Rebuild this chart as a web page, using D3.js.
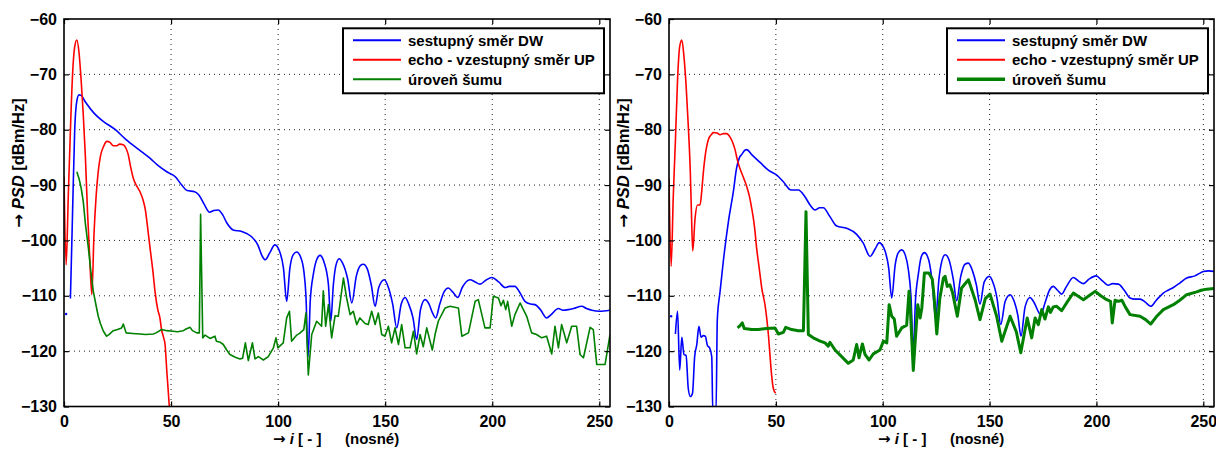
<!DOCTYPE html>
<html>
<head>
<meta charset="utf-8">
<script src="https://cdn.jsdelivr.net/npm/d3@7"></script>
<style>
  body { margin: 0; background: #fff; }
  svg { display: block; font-family: "Liberation Sans", Arial, sans-serif; font-weight: bold; }
</style>
</head>
<body>
<div class="psd"></div>
<script>
// tick values and labels
const xTicks = [0, 50, 100, 150, 200, 250];
const yTicks = [-60, -70, -80, -90, -100, -110, -120, -130];
const seriesNames = ["sestupný směr DW", "echo - vzestupný směr UP", "úroveň šumu"];

// left panel: [carrier, dBm/Hz], null = gap
const dwLeft = [[1,-113.3],[2,null],[3,-110.5],[4,-95],[5,-80],[6,-74.8],[7,-73.7],[8,-73.8],[10,-75],[14,-77],[18,-78.4],[24,-80],[29,-81.8],[35,-83.6],[40,-85.1],[44,-86.5],[48,-87.6],[52,-88.5],[55,-90],[57.5,-91],[61,-91.2],[63,-91.8],[65.5,-93.5],[68,-94.9],[70,-94.6],[72,-94.5],[74,-95.3],[76,-96.8],[79,-98.1],[83,-98.4],[87.5,-99.3],[90.5,-100.8],[92.5,-102.8],[94,-103.5],[96,-102.3],[98.5,-100.8],[100.5,-101.8],[102.5,-105],[104,-111],[105.5,-105],[107,-102.6],[108.7,-102.1],[110.5,-103],[112,-105.5],[113,-110],[114,-121],[115,-111],[116.5,-106],[118,-103.5],[119.6,-102.7],[121.5,-104],[123.5,-108],[124.6,-114.6],[125.8,-108],[127,-104.5],[128.5,-103.3],[130,-104],[132.5,-107],[134.4,-111.3],[136.5,-106.5],[138.5,-104.5],[139.8,-104.3],[141.5,-105],[143.5,-108],[145.3,-111.9],[147,-108.5],[149.6,-107.1],[151.5,-108.5],[153.5,-111.5],[155.4,-115.8],[157.5,-111.5],[159.3,-110.3],[161,-111.5],[163,-114],[164.7,-117.9],[166.5,-112.5],[168.6,-110.7],[170.5,-111.5],[172,-113],[173.6,-114],[175.5,-111.5],[177.5,-109.3],[179.5,-108.6],[181.5,-109.3],[183.9,-110.3],[186,-108.5],[189.6,-107.1],[192,-107.5],[194.3,-107.9],[197,-107.2],[199.8,-106.7],[203,-107.5],[206,-108.5],[208,-108.3],[210.6,-108.3],[213,-109.5],[215.3,-111],[218,-111.5],[220,-111.6],[222.5,-112.5],[225.4,-114],[227.5,-113.4],[230.9,-112.3],[233,-112.6],[235.5,-112.5],[238,-112.3],[241.8,-111.9],[244,-112.3],[246.5,-112.6],[250,-112.8],[255,-112.6]];

const upLeft = [[0,-88.5],[1,-104.4],[2,-92],[3,-80],[4,-70],[5,-65],[6,-63.8],[7,-66],[8,-71],[9,-77.3],[10,-85],[11,-95],[12,-103],[13,-109.8],[14,-99],[15,-92],[16,-87.5],[17,-84.8],[18.5,-83],[20,-82.1],[21.5,-82.3],[23,-82.9],[24.6,-82.9],[26,-82.6],[27.7,-82.7],[29,-83.4],[30,-84.5],[31,-86.5],[32.4,-88.8],[34,-90.2],[35.5,-91.2],[37,-92.8],[38,-94.5],[39,-97.5],[40.2,-101.4],[41.5,-105.5],[42.5,-109.2],[43.8,-112.5],[44.8,-114],[45.5,-116],[46.5,-117.5],[47.2,-118.8],[48,-123.5],[49,-129],[50,-134]];

const noiseLeft = [[6,-87.6],[7,-88.8],[8,-90.5],[9,-93],[10,-97],[11.4,-101.4],[12.5,-105.5],[13.7,-109.2],[15,-111.8],[16,-113.7],[17,-115],[18.4,-116.4],[19.9,-117.3],[21,-117],[23,-116.3],[25,-116.1],[26.9,-115.8],[27.7,-115.1],[29,-116.7],[32,-116.8],[35.5,-116.9],[38,-117],[41.7,-116.9],[43,-116.7],[45.6,-116.1],[48,-116.3],[51,-116.4],[53,-116.5],[55.7,-116.3],[57,-116],[58.9,-115.7],[60,-116.3],[62,-116.7],[63.2,-116.7],[63.8,-95.3],[64.8,-117.6],[65.9,-117.1],[68.2,-117.7],[70.5,-117.3],[71.2,-118.2],[73,-118.4],[74.4,-118.8],[76,-119.8],[77.5,-120.6],[80,-121.1],[82.2,-121.4],[83.4,-121.3],[84.7,-118.5],[86.1,-121.7],[88,-118.5],[89.2,-121.4],[90.8,-121],[92,-121.3],[93.1,-121.6],[95.4,-121],[97.8,-119.4],[99,-117.6],[99.9,-119.4],[101,-119],[102.4,-118.5],[104,-114],[105.3,-112.8],[106.3,-118.2],[108.7,-117.1],[110,-116.8],[112,-116.1],[113,-113.1],[114.1,-124.3],[115.7,-117],[118,-114.6],[120.3,-115.5],[121.1,-109.1],[122.2,-115.5],[123.5,-111.6],[125,-117.6],[126.6,-113.6],[128.1,-113.7],[130.5,-106.8],[132,-110.4],[133.6,-113.4],[135.1,-112.8],[136.7,-115.2],[138.2,-114],[140.6,-115],[142.1,-115.2],[143.7,-112.8],[145.3,-115.2],[146.8,-113.1],[148.4,-117],[149.9,-117.3],[151.5,-115.5],[153,-118.5],[154.6,-115.8],[156.2,-118.8],[157.7,-115.2],[159.3,-119.4],[161.6,-119.4],[163.2,-116.4],[164.7,-120.5],[166.3,-117],[167.8,-119.2],[169.4,-115.8],[172,-119.8],[173.3,-117],[174.8,-114.6],[178,-112.2],[180.3,-111.9],[184.2,-112.2],[185.8,-117.3],[188.9,-116.7],[192,-111],[193.5,-110.7],[196.6,-115.8],[199,-115.8],[200.5,-110.1],[202.9,-110.4],[204.1,-111.8],[205.2,-110.8],[206.3,-112.5],[207.2,-111],[209.1,-115.5],[210.6,-113.4],[213,-111.3],[216.1,-113.7],[218.4,-116.7],[220.7,-117],[223.1,-117.6],[225.4,-117.3],[227.8,-120.5],[229.3,-115.5],[230.9,-119.4],[232.4,-115.2],[234.8,-118.5],[237.1,-115.5],[239.4,-115.5],[241,-120.6],[242.6,-121.2],[245.7,-115.7],[247.2,-116.1],[248.8,-122.4],[252.7,-122.4],[255,-117]];

// right panel
const dwRight = [[1,-113.7],[2,null],[3,-116.9],[4,-112.8],[5,-123.4],[6,-117.5],[7,-120.6],[8,-120.8],[9,-126.7],[10,-128.2],[11,-127.6],[12,-121],[13,-118.8],[14,-115.5],[15,-117.5],[16,-117.2],[17,-117.3],[18,-119],[19,-119.4],[20,-121],[20.5,-131],[22,-131],[22.6,-114.3],[23.9,-109.2],[25.4,-103.8],[27.8,-96.6],[30.1,-91.2],[31.6,-87],[33,-85],[34,-84.5],[35.5,-83.7],[36.4,-83.6],[38.7,-84.5],[42.6,-85.9],[46.5,-87.3],[50.4,-88.2],[53.5,-89.4],[57.1,-90.9],[60.5,-90.9],[63.6,-92.1],[66,-93.6],[68.3,-94.5],[70.5,-94.1],[72.2,-94.1],[75.3,-95.7],[78.5,-97.4],[83.1,-97.8],[87.8,-98.9],[90.9,-100.5],[94.1,-102.9],[96.5,-101.5],[98.4,-100.4],[100,-101],[101.1,-101.9],[102.8,-105],[104.2,-110.4],[105.8,-104.5],[107.3,-102.2],[108.9,-101.7],[110.6,-102.7],[112,-105.3],[113.2,-110],[114.3,-120],[115.3,-111],[116.7,-106],[118,-103],[119.5,-102.2],[121.5,-103.5],[123,-107],[124.8,-114],[126.3,-107],[127.5,-104],[129.2,-102.6],[131,-103.5],[133,-107],[134.6,-110.9],[136.5,-106.5],[138.5,-104.3],[140.1,-104.1],[142,-105.5],[143.8,-108],[145.5,-111.5],[147.5,-107.5],[149.9,-106.5],[151.5,-107.5],[153.5,-110.5],[155.2,-115.2],[157.3,-111],[159.6,-109.8],[161.5,-111],[163.2,-113.5],[164.7,-117.3],[166.6,-112],[168.9,-110.3],[170.8,-111.2],[173.9,-113.4],[176,-111.2],[178,-109],[179.8,-108.3],[181.8,-109],[183.7,-109.7],[186,-108.3],[189.2,-106.7],[191.5,-107.3],[193.9,-107.8],[196.5,-107],[199.8,-106.4],[202.5,-107.2],[205.6,-108.1],[207.5,-107.8],[210.3,-107.9],[213,-109],[215.7,-110.4],[218,-110.6],[220.4,-110.6],[223,-111.2],[225.4,-111.9],[228,-110.8],[231.3,-109.5],[233.5,-109],[236,-108.5],[239,-107.7],[242.2,-106.8],[246.1,-106.4],[248,-106],[250,-105.6],[252.5,-105.5],[255,-105.6]];

const upRight = [[0,-88.8],[1,-104.7],[2,-92],[3,-82],[4,-71],[5,-65],[6,-63.8],[7,-66.8],[8,-72],[9,-79.1],[10,-88],[10.5,-95],[11.1,-101.9],[12.2,-96],[13.3,-93.6],[14.5,-93.6],[15.3,-91.2],[16,-88],[16.8,-85.1],[18.4,-81.8],[20,-80.8],[20.7,-80.5],[22.5,-80.6],[23.9,-80.9],[25.5,-80.7],[27,-80.7],[28.5,-81.3],[29.8,-82.3],[30.9,-83.6],[32,-85.5],[33.2,-87],[35,-88.8],[36.4,-90.3],[37.6,-92],[38.7,-94.2],[40,-97.5],[41,-101.4],[42.2,-105],[43.4,-108.6],[44.9,-111.6],[45.7,-114],[46.5,-117],[47.3,-121],[48,-124.3],[48.8,-126.7],[49.9,-127.6]];

const noiseRight = [[32.1,-115.8],[33,-115.5],[34.3,-114.9],[35.2,-115.9],[38.7,-116.1],[41.8,-116.1],[45.7,-115.9],[49.6,-115.8],[51.2,-116.9],[53.5,-116.6],[54.6,-115.7],[57.4,-116.1],[60.5,-116.3],[62.9,-116.3],[64.1,-94.8],[65.2,-117],[67.5,-117.6],[70.7,-118.2],[73,-118.5],[74.5,-119.1],[75.3,-118.4],[77.7,-119.8],[80.8,-121],[83.9,-122.2],[86.2,-121.6],[87.8,-118.8],[88.9,-121.2],[90.5,-118.7],[91.7,-120.6],[93.6,-121.6],[95.6,-120.5],[98.7,-119.8],[100.3,-118.2],[101.9,-118.5],[103,-111.6],[104.2,-113.7],[105.4,-114.2],[106.5,-117.3],[108.9,-115.8],[111.2,-115.3],[112.3,-109.2],[113,-113],[114.3,-123.5],[115.4,-117],[116.4,-111.6],[117.5,-114],[118.3,-112.2],[119.5,-105.9],[121.6,-105.9],[123.2,-107],[124,-110],[125.3,-116.9],[126.7,-110.5],[128.4,-106.8],[129.2,-106.5],[130.2,-108.3],[131.4,-108],[132.6,-109.3],[134.9,-113.7],[136.9,-108.6],[140.1,-107.1],[143.2,-110.7],[145.5,-114.3],[148,-110.5],[150.2,-109.7],[153.3,-113.7],[155.7,-118.2],[159.6,-113.7],[162.5,-116.5],[164.6,-120.3],[167.6,-114],[169.7,-117.6],[171.3,-114],[172.8,-115.2],[174.4,-112.5],[175.9,-114.2],[177.5,-112],[178.5,-113],[179.8,-112],[181.4,-111.9],[183.7,-112.7],[186.5,-111],[189.2,-109.5],[193.9,-110.7],[196.5,-110],[199.4,-109.2],[202,-110],[204.8,-110.7],[206.6,-111],[207.4,-114.9],[208.7,-110.8],[210.3,-111],[211.9,-110.8],[213.5,-112],[215.7,-113.4],[220.4,-113.7],[223,-114.3],[225.4,-115.1],[228,-113.8],[231.3,-112.5],[236,-111.6],[239,-110.8],[242.2,-109.8],[246.9,-109.3],[249,-109],[251.6,-108.8],[255,-108.7]];

const colors = ["#0000ff", "#ff0000", "#008000"];

const svg = d3.select(".psd").append("svg").attr("width", 1216).attr("height", 450);

const panels = [
  { left: 64, right: 610, top: 19, bottom: 406.5, series: [dwLeft, upLeft, noiseLeft], widths: [1.6, 1.6, 1.6], curves: [d3.curveMonotoneX, d3.curveMonotoneX, d3.curveLinear] },
  { left: 669, right: 1214, top: 19, bottom: 406.5, series: [dwRight, upRight, noiseRight], widths: [1.6, 1.6, 3], curves: [d3.curveMonotoneX, d3.curveMonotoneX, d3.curveLinear] }
];

// label with a big arrow glyph in front
function arrowLabel(sel, italicPart, rest) {
  sel.append("tspan").attr("font-family", "DejaVu Sans").text("→");
  sel.append("tspan").text(" ");
  sel.append("tspan").attr("font-style", "italic").text(italicPart);
  sel.append("tspan").text(rest);
}

panels.forEach(function (p, k) {
  var width = p.right - p.left, height = p.bottom - p.top;
  var g = svg.append("g").attr("transform", "translate(" + p.left + "," + p.top + ")");
  var x = d3.scaleLinear().domain([0, 255]).range([0, width]);
  var y = d3.scaleLinear().domain([-130, -60]).range([height, 0]);

  // grid
  g.append("g").selectAll("line").data(xTicks.filter(function (t) { return t > 0; })).enter().append("line")
    .attr("x1", function (d) { return x(d); }).attr("x2", function (d) { return x(d); })
    .attr("y1", 0).attr("y2", height)
    .attr("stroke", "#222").attr("stroke-width", 1).attr("stroke-dasharray", "1,4");
  g.append("g").selectAll("line").data(yTicks.filter(function (t) { return t > -130 && t < -60; })).enter().append("line")
    .attr("y1", function (d) { return y(d); }).attr("y2", function (d) { return y(d); })
    .attr("x1", 0).attr("x2", width)
    .attr("stroke", "#222").attr("stroke-width", 1).attr("stroke-dasharray", "1,4");

  // data
  var clipId = "clip" + k;
  g.append("clipPath").attr("id", clipId).append("rect").attr("width", width).attr("height", height);
  var plot = g.append("g").attr("clip-path", "url(#" + clipId + ")");
  p.series.forEach(function (data, s) {
    var line = d3.line()
      .defined(function (d) { return d[1] !== null; })
      .curve(p.curves[s])
      .x(function (d) { return x(d[0]); })
      .y(function (d) { return y(d[1]); });
    plot.append("path").datum(data)
      .attr("fill", "none").attr("stroke", colors[s]).attr("stroke-width", p.widths[s])
      .attr("stroke-linejoin", "round").attr("d", line);
    // isolated samples
    var lone = data.filter(function (d, i) {
      return d[1] !== null && (i === 0 || data[i - 1][1] === null) && (i === data.length - 1 || data[i + 1][1] === null);
    });
    plot.selectAll(null).data(lone).enter().append("circle")
      .attr("cx", function (d) { return x(d[0]); }).attr("cy", function (d) { return y(d[1]); })
      .attr("r", 1.2).attr("fill", colors[s]);
  });

  // axes (ticks inside, box)
  var tl = 5;
  g.append("g").attr("transform", "translate(0," + height + ")")
    .call(d3.axisBottom(x).tickValues(xTicks).tickSize(-tl).tickPadding(9).tickFormat(d3.format("d")));
  g.append("g")
    .call(d3.axisLeft(y).tickValues(yTicks).tickSize(-tl).tickPadding(7).tickFormat(d3.format("d")));
  g.append("g").call(d3.axisTop(x).tickValues(xTicks).tickSize(-tl).tickFormat(""));
  g.append("g").attr("transform", "translate(" + width + ",0)")
    .call(d3.axisRight(y).tickValues(yTicks).tickSize(-tl).tickFormat(""));
  g.selectAll(".domain").remove();
  g.selectAll(".tick line").attr("stroke", "#000").attr("stroke-width", 1.2);
  g.selectAll(".tick text").attr("font-family", "Liberation Sans, Arial, sans-serif")
    .attr("font-weight", "bold").attr("font-size", 16).attr("fill", "#000");
  g.append("rect").attr("width", width).attr("height", height)
    .attr("fill", "none").attr("stroke", "#000").attr("stroke-width", 1.6);

  // labels
  var yl = svg.append("text")
    .attr("transform", "translate(" + (p.left - 40) + ",163) rotate(-90)")
    .attr("text-anchor", "middle").attr("font-size", 16.5);
  arrowLabel(yl, "PSD", " [dBm/Hz]");

  var xl = svg.append("text")
    .attr("x", p.left + 209).attr("y", 444).attr("font-size", 15);
  arrowLabel(xl, "i", " [ - ]");
  svg.append("text")
    .attr("x", p.left + 281).attr("y", 444).attr("font-size", 15).text("(nosné)");

  // legend
  var lw = 261, lh = 65;
  var lg = g.append("g").attr("transform", "translate(" + (width - 6 - lw) + ",9.3)");
  lg.append("rect").attr("width", lw).attr("height", lh)
    .attr("fill", "#fff").attr("stroke", "#000").attr("stroke-width", 2);
  seriesNames.forEach(function (name, s) {
    var ry = 12 + s * 19.5;
    lg.append("line").attr("x1", 10).attr("x2", 58).attr("y1", ry).attr("y2", ry)
      .attr("stroke", colors[s]).attr("stroke-width", p.widths[s] + 0.4);
    lg.append("text").attr("x", 65).attr("y", ry + 5.5).attr("font-size", 15).text(name);
  });
});
</script>
</body>
</html>
